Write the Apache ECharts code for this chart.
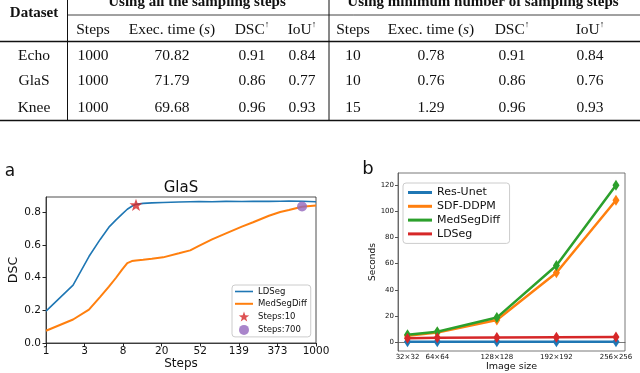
<!DOCTYPE html>
<html>
<head>
<meta charset="utf-8">
<script src="https://cdn.jsdelivr.net/npm/echarts@6/dist/echarts.min.js"></script>
<style>
  html, body { margin: 0; padding: 0; background: #fff; }
  #main { width: 640px; height: 373px; }
</style>
</head>
<body>
<div id="main"></div>
<script>
// ---- table data ----
const datasets = ['Echo', 'GlaS', 'Knee']
const allSteps = ['1000', '1000', '1000']
const allTime = ['70.82', '71.79', '69.68']
const allDsc = ['0.91', '0.86', '0.96']
const allIou = ['0.84', '0.77', '0.93']
const minSteps = ['10', '10', '15']
const minTime = ['0.78', '0.76', '1.29']
const minDsc = ['0.91', '0.86', '0.96']
const minIou = ['0.84', '0.76', '0.93']

// ---- panel a: DSC vs sampling steps (GlaS) ----
const steps = [1, 2, 3, 4, 5, 6, 7, 8, 9, 10, 12, 15, 20, 30, 40, 50, 70, 100, 150, 200, 300, 400, 500, 700, 1000]
const ldsegDsc = [0.195, 0.355, 0.53, 0.635, 0.71, 0.755, 0.79, 0.82, 0.838, 0.85, 0.856, 0.859, 0.861, 0.864, 0.866, 0.867, 0.866, 0.868, 0.867, 0.869, 0.868, 0.869, 0.87, 0.869, 0.866]
const medSegDiffDsc = [0.075, 0.144, 0.205, 0.283, 0.345, 0.4, 0.45, 0.49, 0.502, 0.506, 0.51, 0.516, 0.525, 0.55, 0.568, 0.595, 0.635, 0.672, 0.713, 0.74, 0.78, 0.803, 0.815, 0.835, 0.843]
const starPoint = [10, 0.847]
const circlePoint = [700, 0.837]
const stepTickLabels = ['1', '3', '8', '20', '52', '139', '373', '1000']
const dscTicks = [0, 0.2, 0.4, 0.6, 0.8]

// ---- panel b: time vs image size ----
const imageSizes = [32, 64, 128, 192, 256]
const resUnetSec = [0.1, 0.1, 0.1, 0.1, 0.1]
const sdfDdpmSec = [4.8, 7.2, 16.9, 53, 108.5]
const medSegDiffSec = [5.6, 7.9, 18.7, 58.6, 120]
const ldsegSec = [2.8, 3.2, 3.4, 3.6, 3.9]
const secondTicks = [0, 20, 40, 60, 80, 100, 120]

const logBase = Math.pow(1000, 1 / 7)
const serif = '"Liberation Serif", "DejaVu Serif", serif'
const sans = '"DejaVu Sans", sans-serif'
const ink = '#111'

// table graphic
const colX = [34, 93, 172, 252, 302, 353, 431, 512, 590]
const rowY = [56, 81, 107.5]
const txt = (x, y, text, font, extra) => ({
  type: 'text',
  x: x,
  y: y,
  style: Object.assign({ text: text, font: font, fill: ink, textAlign: 'center', textVerticalAlign: 'middle' }, extra || {})
})
const rule = (x1, y1, x2, y2, w) => ({
  type: 'line',
  shape: { x1: x1, y1: y1, x2: x2, y2: y2 },
  style: { stroke: ink, lineWidth: w }
})
const headRich = {
  n: { font: '15.5px ' + serif, fill: ink, lineHeight: 18 },
  i: { font: 'italic 15.5px ' + serif, fill: ink, lineHeight: 18 },
  u: { font: '9px ' + serif, fill: ink, lineHeight: 10, verticalAlign: 'top' }
}
const head = (x, text) => txt(x, 29.5, text, '15.5px ' + serif, { rich: headRich })

const tableGraphic = [
  rule(67.5, 0, 67.5, 121, 1),
  rule(329, 0, 329, 121, 1),
  rule(67.5, 15, 640, 15, 0.8),
  rule(0, 41.5, 640, 41.5, 1.3),
  rule(0, 120.5, 640, 120.5, 1.5),
  txt(34, 13.5, 'Dataset', 'bold 15px ' + serif),
  txt(197, 2.5, 'Using all the sampling steps', 'bold 15px ' + serif),
  txt(483, 2.5, 'Using minimum number of sampling steps', 'bold 15px ' + serif),
  head(colX[1], '{n|Steps}'),
  head(colX[2], '{n|Exec. time (}{i|s}{n|)}'),
  head(colX[3], '{n|DSC}{u|↑}'),
  head(colX[4], '{n|IoU}{u|↑}'),
  head(colX[5], '{n|Steps}'),
  head(colX[6], '{n|Exec. time (}{i|s}{n|)}'),
  head(colX[7], '{n|DSC}{u|↑}'),
  head(colX[8], '{n|IoU}{u|↑}')
]
const cols = [datasets, allSteps, allTime, allDsc, allIou, minSteps, minTime, minDsc, minIou]
cols.forEach((col, c) => {
  col.forEach((v, r) => {
    tableGraphic.push(txt(colX[c], rowY[r], v, '15.5px ' + serif))
  })
})

// titles and panel letters
tableGraphic.push(txt(10, 172, 'a', '17px ' + sans))
tableGraphic.push(txt(368, 169, 'b', '18px ' + sans))
tableGraphic.push(txt(181, 188, 'GlaS', '15px ' + sans))

const starPath = 'path://M0,-10L2.35,-3.24L9.51,-3.09L3.8,1.24L5.88,8.09L0,4L-5.88,8.09L-3.8,1.24L-9.51,-3.09L-2.35,-3.24Z'

const chart = echarts.init(document.getElementById('main'))

const option = {
  animation: false,
  backgroundColor: '#fff',
  textStyle: { fontFamily: sans },
  graphic: tableGraphic,
  grid: [
    { left: 46, top: 197, width: 270, height: 146, show: true, borderColor: '#222', borderWidth: 0.8 },
    { left: 398, top: 173, width: 227, height: 179, show: true, borderColor: '#555', borderWidth: 0.8 }
  ],
  legend: [
    {
      orient: 'vertical',
      left: 232,
      top: 285,
      itemWidth: 18,
      itemHeight: 10,
      itemGap: 3.3,
      padding: [2, 4, 2, 3],
      borderColor: '#ccc',
      borderWidth: 1,
      borderRadius: 3,
      symbolKeepAspect: true,
      backgroundColor: 'rgba(255,255,255,0.85)',
      textStyle: { fontSize: 8.5, color: ink, fontFamily: sans },
      data: [
        { name: 'LDSeg', icon: 'path://M0,0H18V1.6H0Z' },
        { name: 'MedSegDiff', icon: 'path://M0,0H18V2H0Z' },
        'Steps:10',
        'Steps:700'
      ]
    },
    {
      orient: 'vertical',
      left: 403,
      top: 183,
      itemWidth: 24,
      itemHeight: 3,
      itemGap: 2.8,
      padding: [4, 6, 4, 5],
      borderColor: '#ccc',
      borderWidth: 1,
      borderRadius: 3,
      textStyle: { fontSize: 11, color: ink, fontFamily: sans },
      icon: 'rect',
      data: ['Res-Unet', 'SDF-DDPM', 'MedSegDiff ', 'LDSeg ']
    }
  ],
  xAxis: [
    {
      gridIndex: 0,
      type: 'log',
      logBase: logBase,
      min: 1,
      max: 1000,
      name: 'Steps',
      nameLocation: 'middle',
      nameGap: 15,
      nameTextStyle: { fontSize: 12, color: ink },
      axisLine: { show: true, lineStyle: { color: '#222', width: 0.8 } },
      axisTick: { show: true, length: 3.5, lineStyle: { color: '#222' } },
      axisLabel: {
        fontSize: 10.5,
        color: ink,
        margin: 3,
        formatter: (v) => stepTickLabels[Math.round(Math.log(v) / Math.log(logBase))]
      },
      splitLine: { show: false },
      minorTick: { show: false }
    },
    {
      gridIndex: 1,
      type: 'value',
      min: 21.8,
      max: 265.7,
      name: 'Image size',
      nameLocation: 'middle',
      nameGap: 11,
      nameTextStyle: { fontSize: 9.5, color: ink },
      axisLine: { show: true, lineStyle: { color: '#555', width: 0.8 } },
      axisTick: { show: true, length: 3, customValues: imageSizes, lineStyle: { color: '#555' } },
      axisLabel: {
        fontSize: 7,
        color: ink,
        margin: 3,
        customValues: imageSizes,
        formatter: (v) => v + '×' + v
      },
      splitLine: { show: false }
    }
  ],
  yAxis: [
    {
      gridIndex: 0,
      type: 'value',
      min: 0,
      max: 0.895,
      name: 'DSC',
      nameLocation: 'middle',
      nameGap: 23,
      nameTextStyle: { fontSize: 12.5, color: ink },
      axisLine: { show: true, lineStyle: { color: '#222', width: 0.8 } },
      axisTick: { show: true, length: 3.5, customValues: dscTicks, lineStyle: { color: '#222' } },
      axisLabel: {
        fontSize: 10.5,
        color: ink,
        margin: 5,
        customValues: dscTicks,
        formatter: (v) => v.toFixed(1)
      },
      splitLine: { show: false }
    },
    {
      gridIndex: 1,
      type: 'value',
      min: -6.9,
      max: 129.4,
      name: 'Seconds',
      nameLocation: 'middle',
      nameGap: 18,
      nameTextStyle: { fontSize: 9, color: ink },
      axisLine: { show: true, lineStyle: { color: '#555', width: 0.8 } },
      axisTick: { show: true, length: 3, customValues: secondTicks, lineStyle: { color: '#555' } },
      axisLabel: { fontSize: 7, color: ink, margin: 4, customValues: secondTicks },
      splitLine: { show: false }
    }
  ],
  series: [
    {
      name: 'LDSeg',
      type: 'line',
      xAxisIndex: 0,
      yAxisIndex: 0,
      symbol: 'none',
      color: '#1f77b4',
      lineStyle: { width: 1.6 },
      data: steps.map((s, i) => [s, ldsegDsc[i]])
    },
    {
      name: 'MedSegDiff',
      type: 'line',
      xAxisIndex: 0,
      yAxisIndex: 0,
      symbol: 'none',
      color: '#ff7f0e',
      lineStyle: { width: 2 },
      data: steps.map((s, i) => [s, medSegDiffDsc[i]])
    },
    {
      name: 'Steps:10',
      type: 'scatter',
      xAxisIndex: 0,
      yAxisIndex: 0,
      symbol: starPath,
      symbolKeepAspect: true,
      symbolSize: 13,
      color: '#d62728',
      z: 5,
      data: [starPoint]
    },
    {
      name: 'Steps:700',
      type: 'scatter',
      xAxisIndex: 0,
      yAxisIndex: 0,
      symbol: 'circle',
      symbolSize: 10,
      color: '#9467bd',
      z: 5,
      data: [circlePoint]
    },
    {
      name: 'Res-Unet',
      type: 'line',
      xAxisIndex: 1,
      yAxisIndex: 1,
      symbol: 'diamond',
      symbolSize: [7, 11],
      color: '#1f77b4',
      lineStyle: { width: 2.5 },
      data: imageSizes.map((s, i) => [s, resUnetSec[i]])
    },
    {
      name: 'SDF-DDPM',
      type: 'line',
      xAxisIndex: 1,
      yAxisIndex: 1,
      symbol: 'diamond',
      symbolSize: [7, 11],
      color: '#ff7f0e',
      lineStyle: { width: 2.5 },
      data: imageSizes.map((s, i) => [s, sdfDdpmSec[i]])
    },
    {
      name: 'MedSegDiff ',
      type: 'line',
      xAxisIndex: 1,
      yAxisIndex: 1,
      symbol: 'diamond',
      symbolSize: [7, 11],
      color: '#2ca02c',
      lineStyle: { width: 2.5 },
      data: imageSizes.map((s, i) => [s, medSegDiffSec[i]])
    },
    {
      name: 'LDSeg ',
      type: 'line',
      xAxisIndex: 1,
      yAxisIndex: 1,
      symbol: 'diamond',
      symbolSize: [7, 11],
      color: '#d62728',
      lineStyle: { width: 2.5 },
      data: imageSizes.map((s, i) => [s, ldsegSec[i]])
    }
  ]
}

chart.setOption(option)
</script>
</body>
</html>
